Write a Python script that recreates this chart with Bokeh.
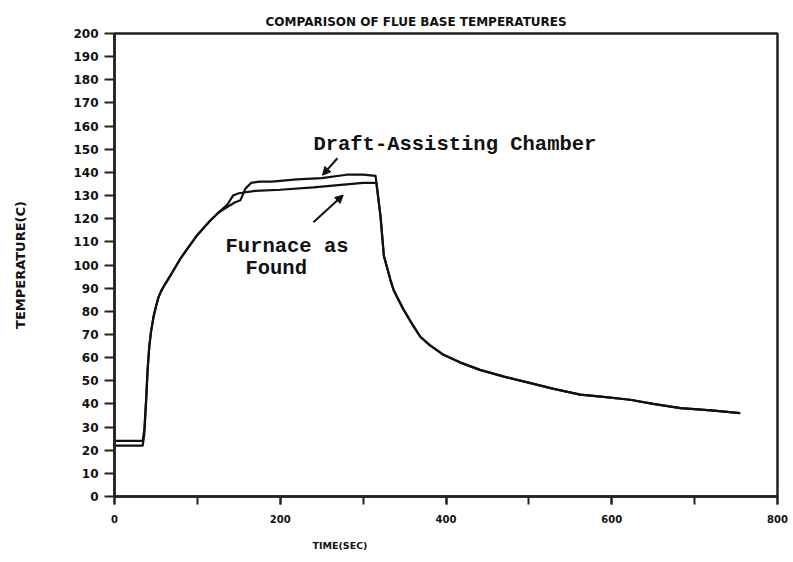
from bokeh.plotting import figure
from bokeh.embed import file_html
from bokeh.resources import INLINE
from bokeh.models import Label, Arrow, NormalHead, SingleIntervalTicker, Range1d, Title

# ---- data ----
draft_time = [0, 34, 36, 38, 40, 42, 44, 47, 50, 53, 56, 59, 65, 70, 80, 90, 100, 115, 125, 136,
              145, 152, 158, 165, 175, 190, 220, 250, 280, 300, 315, 321, 325, 333, 337, 349,
              360, 369, 380, 397, 420, 441, 470, 502, 530, 562, 590, 622, 650, 683, 720, 755]
draft_temp = [24, 24, 29, 41, 55, 65, 71, 77.5, 82, 86, 88.5, 90.5, 94, 97, 103, 108, 113,
              119, 122.5, 125, 127, 128, 133, 135.5, 136, 136, 137, 137.5, 139, 139, 138.5, 121,
              104, 93.5, 89, 80.6, 74, 69, 65.5, 61.2, 57.5, 54.7, 51.8, 49, 46.5, 44, 43,
              41.8, 40, 38.2, 37.2, 36]

furnace_time = [0, 34, 36, 38, 40, 42, 44, 47, 50, 53, 56, 59, 65, 70, 80, 90, 100, 115, 125,
                136, 143, 150, 170, 200, 240, 270, 300, 316, 321, 325, 333, 337, 349, 360, 369,
                380, 397, 420, 441, 470, 502, 530, 562, 590, 622, 650, 683, 720, 755]
furnace_temp = [22, 22, 27, 40, 55, 65, 71, 77.5, 82, 86, 88.5, 90.5, 94, 97, 103, 108, 113,
                119, 122.5, 126, 130, 131, 132, 132.5, 133.5, 134.5, 135.5, 135.5, 121, 104,
                93.5, 89, 80.6, 74, 69, 65.5, 61.2, 57.5, 54.7, 51.8, 49, 46.5, 44, 43, 41.8,
                40, 38.2, 37.2, 36]

title_text = "COMPARISON OF FLUE BASE TEMPERATURES"
x_label = "TIME(SEC)"
y_label = "TEMPERATURE(C)"

FONT = "DejaVu Sans"
MONO = "Liberation Mono"
INK = "#111111"

p = figure(width=793, height=562, output_backend="svg", toolbar_location=None,
           x_range=Range1d(0, 800), y_range=Range1d(0, 200),
           min_border_left=114, min_border_right=16, min_border_top=33, min_border_bottom=65)

p.background_fill_color = "white"
p.border_fill_color = "white"
p.xgrid.visible = False
p.ygrid.visible = False
p.outline_line_color = "#222222"
p.outline_line_width = 2.5

# axes
p.xaxis.ticker = SingleIntervalTicker(interval=200, num_minor_ticks=2)
p.yaxis.ticker = SingleIntervalTicker(interval=10, num_minor_ticks=0)
for ax in (p.xaxis[0], p.yaxis[0]):
    ax.axis_line_color = "#222222"
    ax.axis_line_width = 2.5
    ax.major_tick_line_color = "#222222"
    ax.major_tick_line_width = 2
    ax.minor_tick_line_color = "#222222"
    ax.minor_tick_line_width = 2
    ax.major_tick_in = 0
    ax.minor_tick_in = 0
    ax.major_label_text_font = FONT
    ax.major_label_text_font_style = "bold"
    ax.major_label_text_color = INK

p.xaxis.major_tick_out = 8
p.xaxis.minor_tick_out = 8
p.xaxis.major_label_text_font_size = "10px"
p.xaxis.major_label_standoff = 10

p.yaxis.major_tick_out = 10
p.yaxis.major_label_text_font_size = "12px"
p.yaxis.major_label_standoff = 6
p.yaxis.axis_label = y_label
p.yaxis.axis_label_text_font = FONT
p.yaxis.axis_label_text_font_style = "bold"
p.yaxis.axis_label_text_font_size = "13px"
p.yaxis.axis_label_text_color = INK
p.yaxis.axis_label_standoff = 42

# title above, x label below (as titles so they are not clipped)
p.add_layout(Title(text=title_text, align="left", offset=151, text_font=FONT,
                   text_font_style="bold", text_font_size="12px", text_color=INK,
                   standoff=9), "above")
p.add_layout(Title(text=x_label, align="left", offset=198, text_font=FONT,
                   text_font_style="bold", text_font_size="9.5px", text_color=INK,
                   standoff=24), "below")

# data lines
p.line(draft_time, draft_temp, line_color=INK, line_width=2.2, line_join="round")
p.line(furnace_time, furnace_temp, line_color=INK, line_width=2.2, line_join="round")

# annotations
p.add_layout(Label(x=240, y=152.2, text="Draft-Assisting Chamber", text_font=MONO,
                   text_font_style="bold", text_font_size="20.5px", text_baseline="middle",
                   text_color=INK))
p.add_layout(Label(x=134, y=108.2, text="Furnace as", text_font=MONO,
                   text_font_style="bold", text_font_size="20.5px", text_baseline="middle",
                   text_color=INK))
p.add_layout(Label(x=158, y=98.7, text="Found", text_font=MONO,
                   text_font_style="bold", text_font_size="20.5px", text_baseline="middle",
                   text_color=INK))

p.add_layout(Arrow(x_start=269, y_start=146.1, x_end=251, y_end=138.8,
                   line_width=2, line_color=INK,
                   end=NormalHead(size=8, fill_color=INK, line_color=INK)))
p.add_layout(Arrow(x_start=240, y_start=118.5, x_end=276, y_end=130.2,
                   line_width=2, line_color=INK,
                   end=NormalHead(size=8, fill_color=INK, line_color=INK)))

open("out.html", "w").write(file_html(p, INLINE))
